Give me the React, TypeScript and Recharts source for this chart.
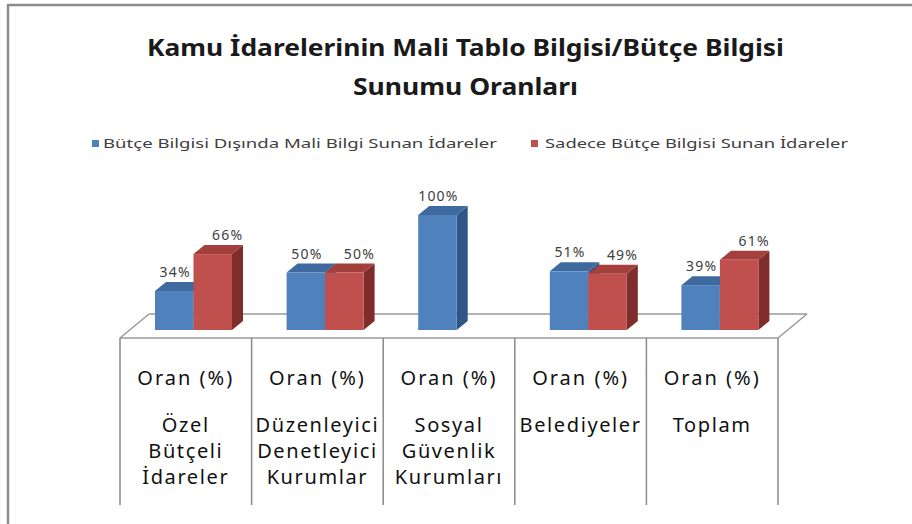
import React from 'react';
import { BarChart, Bar, XAxis, YAxis, LabelList, Customized } from 'recharts';

// ---- data ----
const categories = [
  'Özel Bütçeli İdareler',
  'Düzenleyici Denetleyici Kurumlar',
  'Sosyal Güvenlik Kurumları',
  'Belediyeler',
  'Toplam',
];
const categoryLines = [
  ['Özel', 'Bütçeli', 'İdareler'],
  ['Düzenleyici', 'Denetleyici', 'Kurumlar'],
  ['Sosyal', 'Güvenlik', 'Kurumları'],
  ['Belediyeler'],
  ['Toplam'],
];
const rowLabel = 'Oran (%)';
const seriesNames = [
  'Bütçe Bilgisi Dışında Mali Bilgi Sunan İdareler',
  'Sadece Bütçe Bilgisi Sunan İdareler',
];
const financialInfoValues = [34, 50, 100, 51, 39];
const budgetOnlyValues = [66, 50, 0, 49, 61];
const titleLines = ['Kamu İdarelerinin Mali Tablo Bilgisi/Bütçe Bilgisi', 'Sunumu Oranları'];

const data = categories.map((name, i) => ({
  name,
  a: financialInfoValues[i],
  b: budgetOnlyValues[i],
}));

// ---- layout ----
const W = 912;
const H = 524;
const PL = 120;
const PR = 778;
const PT = 223;
const PB = 338;
const MB = 20;
const XAXIS_H = H - PB - MB;
const BAND = (PR - PL) / categories.length;
const SHIFT_X = 8;
const SHIFT_Y = 8;
const DX = 11;
const DY = 9;
const FLOOR_DX = 29;
const FLOOR_DY = 24;
const TABLE_BOTTOM = 505;
const FONT = '"Noto Sans", "DejaVu Sans", sans-serif';

const BLUE = { front: '#4F81BD', top: '#3E6AA0', side: '#2F5686' };
const RED = { front: '#C0504D', top: '#A33F3C', side: '#7F2D2B' };

const makeShape = (c: { front: string; top: string; side: string }) => (props: any) => {
  const { x, y, width, height } = props;
  if (!height || height <= 0) return <g />;
  const x0 = x + SHIFT_X;
  const y0 = y - SHIFT_Y;
  const w = width;
  const h = height;
  return (
    <g>
      <polygon
        points={`${x0 + w},${y0} ${x0 + w + DX},${y0 - DY} ${x0 + w + DX},${y0 + h - DY} ${x0 + w},${y0 + h}`}
        fill={c.side}
      />
      <polygon
        points={`${x0},${y0} ${x0 + DX},${y0 - DY} ${x0 + w + DX},${y0 - DY} ${x0 + w},${y0}`}
        fill={c.top}
      />
      <rect x={x0} y={y0} width={w} height={h} fill={c.front} />
    </g>
  );
};

const makeLabel = (dxLabel: number) => (props: any) => {
  const { x, y, width, value } = props;
  if (!value) return null;
  return (
    <text
      x={Number(x) + Number(width) / 2 + SHIFT_X + dxLabel}
      y={Number(y) - SHIFT_Y - 14}
      textAnchor="middle"
      fontFamily={FONT}
      fontSize={14}
      letterSpacing={1.2}
      fill="#404040"
    >
      {value}%
    </text>
  );
};

const TableTick = (props: any) => {
  const { x, payload } = props;
  const idx = categories.indexOf(payload.value);
  const lines = categoryLines[idx] || [];
  const left = x - BAND / 2;
  const right = x + BAND / 2;
  return (
    <g>
      <line x1={left} y1={PB} x2={left} y2={TABLE_BOTTOM} stroke="#8a8a8a" strokeWidth={1.5} />
      {idx === categories.length - 1 && (
        <line x1={right} y1={PB} x2={right} y2={TABLE_BOTTOM} stroke="#8a8a8a" strokeWidth={1.5} />
      )}
      <text x={x} y={385} textAnchor="middle" fontFamily={FONT} fontSize={20} letterSpacing={2} fill="#111">
        {rowLabel}
      </text>
      {lines.map((l, i) => (
        <text
          key={i}
          x={x}
          y={432 + i * 26}
          textAnchor="middle"
          fontFamily={FONT}
          fontSize={20}
          letterSpacing={1.6}
          fill="#111"
        >
          {l}
        </text>
      ))}
    </g>
  );
};

const Decor = () => (
  <g>
    {/* outer border (top & left) */}
    <line x1={7} y1={5} x2={W} y2={5} stroke="#8c8c8c" strokeWidth={2.5} />
    <line x1={8} y1={5} x2={8} y2={H} stroke="#8c8c8c" strokeWidth={2.5} />
    {/* title */}
    <text x={147} y={56} fontFamily={FONT} fontWeight="bold" fontSize={23} fill="#1a1a1a" textLength={637} lengthAdjust="spacingAndGlyphs">
      {titleLines[0]}
    </text>
    <text x={353} y={95} fontFamily={FONT} fontWeight="bold" fontSize={23} fill="#1a1a1a" textLength={225} lengthAdjust="spacingAndGlyphs">
      {titleLines[1]}
    </text>
    {/* legend */}
    <rect x={92} y={140} width={7} height={7} fill={BLUE.front} />
    <text x={103} y={148} fontFamily={FONT} fontSize={12.5} fill="#404040" textLength={394} lengthAdjust="spacingAndGlyphs">
      {seriesNames[0]}
    </text>
    <rect x={531} y={140} width={7} height={7} fill={RED.front} />
    <text x={545} y={148} fontFamily={FONT} fontSize={12.5} fill="#404040" textLength={303} lengthAdjust="spacingAndGlyphs">
      {seriesNames[1]}
    </text>
    {/* floor */}
    <line x1={PL + FLOOR_DX} y1={PB - FLOOR_DY} x2={PR + FLOOR_DX} y2={PB - FLOOR_DY} stroke="#9a9a9a" strokeWidth={1.5} />
    <line x1={PL} y1={PB} x2={PL + FLOOR_DX} y2={PB - FLOOR_DY} stroke="#9a9a9a" strokeWidth={1.5} />
    <line x1={PR} y1={PB} x2={PR + FLOOR_DX} y2={PB - FLOOR_DY} stroke="#9a9a9a" strokeWidth={1.5} />
  </g>
);

export default function App() {
  return (
    <div style={{ position: 'absolute', left: 0, top: 0, width: W, height: H, background: '#fff' }}>
      <BarChart
        width={W}
        height={H}
        data={data}
        margin={{ left: PL, right: W - PR, top: PT, bottom: MB }}
        barGap={0}
      >
        <Customized component={<Decor />} />
        <XAxis
          dataKey="name"
          interval={0}
          height={XAXIS_H}
          tickLine={false}
          axisLine={{ stroke: '#9a9a9a', strokeWidth: 1.5 }}
          tick={<TableTick />}
        />
        <YAxis hide domain={[0, 100]} type="number" width={0} />
        <Bar dataKey="a" name={seriesNames[0]} fill={BLUE.front} barSize={38.5} isAnimationActive={false} shape={makeShape(BLUE)}>
          <LabelList dataKey="a" content={makeLabel(1)} />
        </Bar>
        <Bar dataKey="b" name={seriesNames[1]} fill={RED.front} barSize={38.5} isAnimationActive={false} shape={makeShape(RED)}>
          <LabelList dataKey="b" content={makeLabel(15)} />
        </Bar>
      </BarChart>
    </div>
  );
}
